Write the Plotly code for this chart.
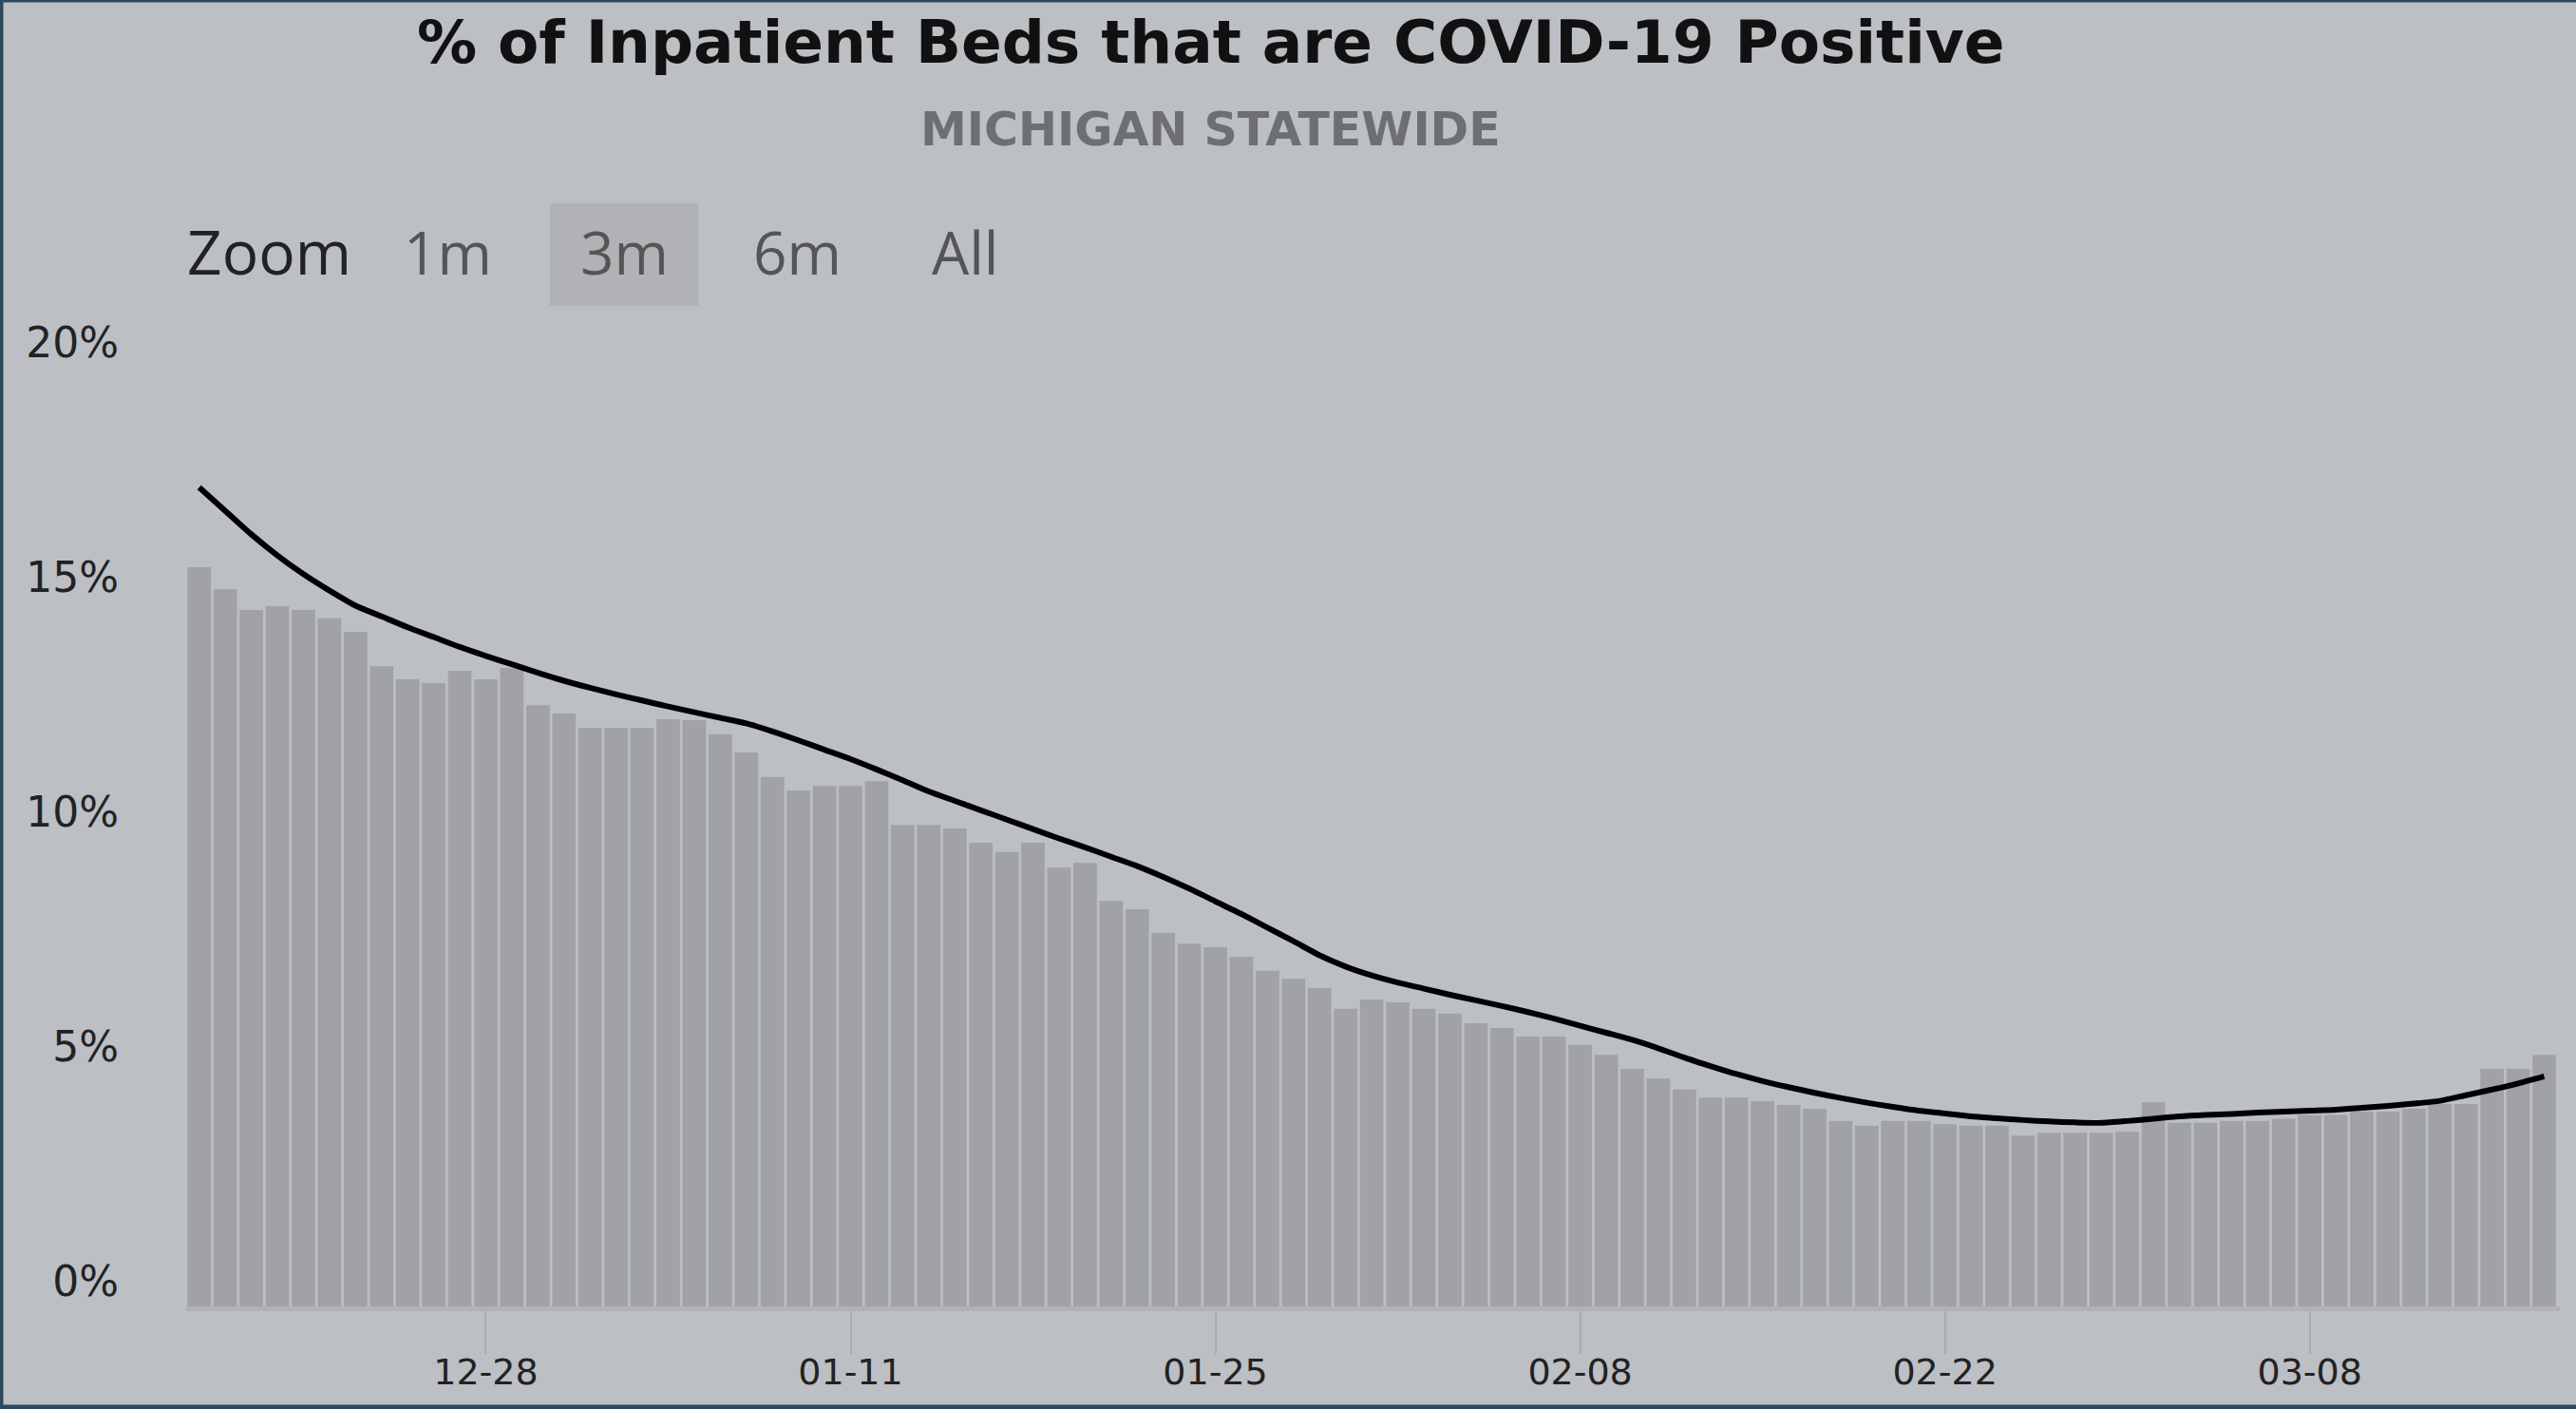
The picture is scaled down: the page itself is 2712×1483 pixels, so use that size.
import plotly.graph_objects as go
import pandas as pd

dates = pd.date_range("2020-12-17", "2021-03-17", freq="D")

pct_positive = [
    15.75, 15.28, 14.84, 14.92, 14.84, 14.66, 14.37, 13.64, 13.36, 13.28,
    13.54, 13.36, 13.60, 12.81, 12.63, 12.33, 12.33, 12.33, 12.51, 12.49,
    12.19, 11.80, 11.28, 10.99, 11.09, 11.09, 11.19, 10.26, 10.26, 10.18,
    9.88, 9.68, 9.88, 9.35, 9.45, 8.64, 8.46, 7.96, 7.73, 7.65,
    7.45, 7.15, 6.98, 6.78, 6.34, 6.54, 6.48, 6.34, 6.24, 6.03,
    5.93, 5.75, 5.75, 5.57, 5.36, 5.06, 4.86, 4.62, 4.45, 4.45,
    4.37, 4.29, 4.21, 3.95, 3.85, 3.95, 3.95, 3.88, 3.85, 3.85,
    3.64, 3.70, 3.70, 3.70, 3.72, 4.35, 3.91, 3.91, 3.95, 3.95,
    4.00, 4.08, 4.08, 4.15, 4.15, 4.21, 4.31, 4.31, 5.06, 5.06,
    5.36,
]

avg_7day = [
    17.45, 16.95, 16.45, 16.00, 15.60, 15.25, 14.93, 14.70, 14.47, 14.26,
    14.05, 13.86, 13.68, 13.50, 13.33, 13.18, 13.04, 12.91, 12.78, 12.66,
    12.54, 12.42, 12.25, 12.06, 11.86, 11.66, 11.44, 11.21, 10.97, 10.77,
    10.57, 10.37, 10.17, 9.97, 9.78, 9.58, 9.38, 9.15, 8.90, 8.63,
    8.36, 8.07, 7.78, 7.48, 7.24, 7.05, 6.90, 6.77, 6.64, 6.52,
    6.40, 6.27, 6.13, 5.98, 5.83, 5.68, 5.50, 5.30, 5.12, 4.95,
    4.80, 4.67, 4.55, 4.44, 4.34, 4.25, 4.17, 4.11, 4.05, 4.01,
    3.97, 3.94, 3.92, 3.91, 3.95, 4.00, 4.05, 4.08, 4.10, 4.13,
    4.15, 4.17, 4.19, 4.23, 4.27, 4.32, 4.38, 4.50, 4.62, 4.75,
    4.90,
]

y_ticks = [0, 5, 10, 15, 20]
y_tick_labels = ["0%", "5%", "10%", "15%", "20%"]
zoom_buttons = ["1m", "3m", "6m", "All"]

BG = "#bcbfc3"
BAR = "#a1a2a6"

W, H = 2712, 1483
L, R, T, B = 196, 17, 387, 108
PW, PH = W - L - R, H - T - B


def px(xp):
    return (xp - L) / PW


def py(yp):
    return (H - B - yp) / PH


fig = go.Figure()
fig.add_trace(go.Bar(x=dates, y=pct_positive, marker=dict(color=BAR, line=dict(width=0)),
                     hoverinfo="x+y", name="% Positive"))
fig.add_trace(go.Scatter(x=dates, y=avg_7day, mode="lines",
                         line=dict(color="#000000", width=6, shape="spline", smoothing=0.6),
                         name="7-day avg"))

annotations = [
    dict(text="<b>% of Inpatient Beds that are COVID-19 Positive</b>", x=px(1275), y=py(45),
         font=dict(family="DejaVu Sans", size=63, color="#111111")),
    dict(text="<b>MICHIGAN STATEWIDE</b>", x=px(1274), y=py(136),
         font=dict(family="DejaVu Sans", size=49, color="#6e6f72")),
    dict(text="Zoom", x=px(195), y=py(265), xanchor="left",
         font=dict(family="Open Sans", size=64, color="#222222")),
]
btn_centers = [471, 657, 840, 1016]
for lbl, cx in zip(zoom_buttons, btn_centers):
    annotations.append(dict(text=lbl, x=px(cx), y=py(265),
                            font=dict(family="Open Sans", size=62, color="#555555")))
for a in annotations:
    a.setdefault("xanchor", "center")
    a.update(xref="paper", yref="paper", yanchor="middle", showarrow=False)

shapes = [
    dict(type="rect", xref="paper", yref="paper", x0=px(579), x1=px(735), y0=py(322), y1=py(214),
         fillcolor="#b1b2b5", line=dict(width=0), layer="below"),
    dict(type="line", xref="paper", yref="paper", x0=px(1.5), x1=px(1.5), y0=py(0), y1=py(H),
         line=dict(color="#2b4a5f", width=4)),
    dict(type="line", xref="paper", yref="paper", x0=px(0), x1=px(W), y0=py(1), y1=py(1),
         line=dict(color="#2b4a5f", width=3)),
    dict(type="line", xref="paper", yref="paper", x0=px(0), x1=px(W), y0=py(H - 2), y1=py(H - 2),
         line=dict(color="#2b4a5f", width=5)),
]

fig.update_layout(
    width=W, height=H,
    margin=dict(l=L, r=R, t=T, b=B, pad=0, autoexpand=False),
    paper_bgcolor=BG, plot_bgcolor=BG,
    showlegend=False, bargap=0.1,
    annotations=annotations, shapes=shapes,
    font=dict(family="DejaVu Sans", color="#333333"),
)
fig.update_xaxes(
    automargin=False,
    range=["2020-12-16 12:00", "2021-03-17 14:24"],
    tick0="2020-12-28", dtick=14 * 24 * 3600 * 1000, tickformat="%m-%d",
    ticks="outside", ticklen=45, tickwidth=2, tickcolor="#a9abae",
    ticklabelstandoff=-14,
    showline=True, linecolor="#b0b2b5", linewidth=5,
    showgrid=False, zeroline=False,
    tickfont=dict(family="DejaVu Sans", size=38, color="#222222"),
)
fig.update_yaxes(
    automargin=False,
    range=[0, 20], tickvals=y_ticks, ticktext=y_tick_labels,
    showgrid=False, zeroline=False, showline=False, ticks="",
    ticklabelshift=-26, ticklabelstandoff=70,
    tickfont=dict(family="DejaVu Sans", size=44, color="#222222"),
)

fig.write_html("out.html", config={"displayModeBar": False},
               post_script="document.body.style.margin='0';document.body.style.overflow='hidden';")
